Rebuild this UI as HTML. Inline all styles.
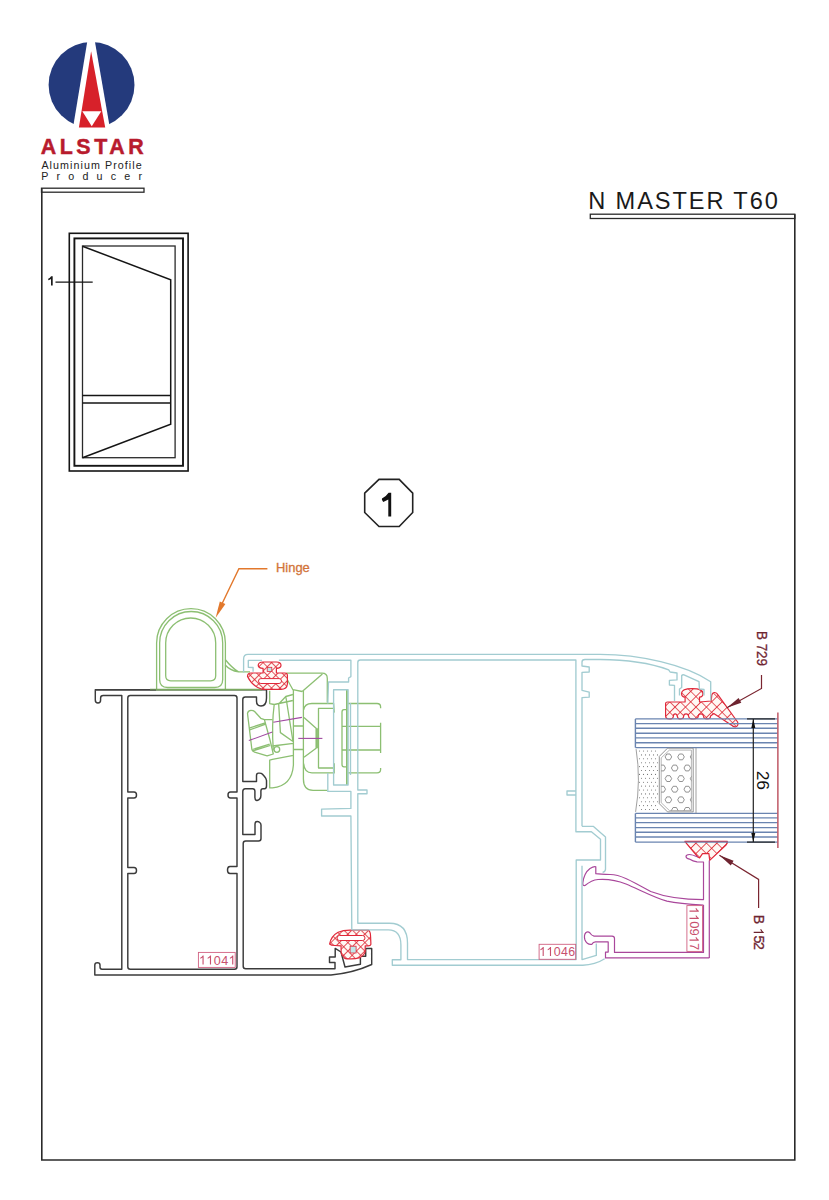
<!DOCTYPE html>
<html><head><meta charset="utf-8"><title>N MASTER T60</title>
<style>
html,body{margin:0;padding:0;background:#fff;width:829px;height:1200px;overflow:hidden}
svg{position:absolute;left:0;top:0;display:block}
text{font-family:"Liberation Sans",sans-serif}
</style></head><body>
<svg width="829" height="1200" viewBox="0 0 829 1200">
<!-- LOGO -->
<g id="logo">
<circle cx="91.55" cy="84.95" r="42.95" fill="#243a7c"/>
<polygon points="91,19 71.8,135 111.1,135" fill="#fff"/>
<polygon points="91.1,51.2 78.9,127.6 105.2,127.6" fill="#d7212a"/>
<polygon points="82.3,111.2 101.3,111.2 91.75,126.2" fill="#fff"/>
<rect x="60" y="128.3" width="70" height="8" fill="#fff"/>
<text x="40.8" y="154.3" font-size="21.4" font-weight="bold" fill="#b81b2d" stroke="#b81b2d" stroke-width="0.45" textLength="102.8" lengthAdjust="spacing">ALSTAR</text>
<text x="41.4" y="169.1" font-size="10.7" fill="#222" textLength="100.3" lengthAdjust="spacing">Aluminium Profile</text>
<text x="41.2" y="180" font-size="10.7" fill="#222" textLength="100.8" lengthAdjust="spacing">Producer</text>
</g>
<!-- BORDER -->
<g fill="none" stroke="#2a2a2a" stroke-width="1.6">
<rect x="41.5" y="188.2" width="102.5" height="4" stroke-width="1.3"/>
<polyline points="41.8,188.2 41.8,1160 794.8,1160 794.8,214.2"/>
<rect x="590.3" y="214.2" width="204.5" height="4.3" stroke-width="1.3"/>
</g>
<text x="588.2" y="208.9" font-size="23.6" fill="#1a1a1a" textLength="189.6" lengthAdjust="spacing">N MASTER T60</text>

<!-- WINDOW ELEVATION -->
<g fill="none" stroke="#151515" stroke-width="1.6">
<rect x="69.3" y="233.3" width="118.8" height="237.7"/>
<rect x="74.4" y="238.4" width="108.6" height="227.4" stroke-width="1.9"/>
<rect x="82.5" y="246" width="92.6" height="211.7" stroke="#2a2a2a" stroke-width="1.3"/>
<polyline points="82.5,246.2 170.7,279.8 170.7,424.3 82.5,457.7" stroke-width="1.5"/>
<line x1="82.5" y1="395.6" x2="170.7" y2="395.6" stroke-width="1.5"/>
<line x1="82.5" y1="403" x2="170.7" y2="403" stroke-width="1.5"/>
<line x1="55.5" y1="282.2" x2="92.7" y2="282.2" stroke-width="1.3"/>
</g>
<path d="M51.1,276.2 L52.7,276.2 L52.7,285.4 L51,285.4 L51,278.9 Q49.8,279.8 48.3,280.3 L48.2,278.7 Q50.2,277.7 51.1,276.2 Z" fill="#1a1a1a"/>

<!-- OCTAGON -->
<polygon points="379,479.4 399.2,479.4 412.7,493.2 412.7,512.5 399.2,526.5 379,526.5 364.7,512.5 364.7,493.2" fill="none" stroke="#222" stroke-width="1.6"/>
<path d="M388.6,492.8 L391.2,492.8 L391.2,516.5 L388.3,516.5 L388.3,499.6 Q386,501 383.2,502 L381.9,499.8 L382,498.6 Q386.2,496.4 388.6,492.8 Z" fill="#111"/>

<!-- SECTION DRAWING -->
<g id="section">
<!-- BLACK FRAME 11041 -->
<g fill="none" stroke="#3b3b3b" stroke-width="1.45" stroke-linejoin="round">
<path d="M266.5,698 L266.5,689.7 L95.3,689.7 L95.3,700 Q95.3,703 98,703 Q100.6,703 100.6,700 L100.6,698 Q100.6,695.4 103.2,695.4 L121.8,695.4 L121.8,969.2 L102,969.2 Q100,969.2 100,967 L100,965 Q100,962.8 97.4,962.8 Q94.8,962.8 94.8,965 L94.8,975 L331,975 Q353,973 371.7,964.5 L371.7,948.4 L365.7,948.4 L365.7,956.3 L360.4,956.3 L360.4,964.3 L345,967 L341,952 L335.2,948.4 L335.2,957 L329.5,957 L329.5,962.4 L335,962.4 L335,968.8 L245.7,968.8 Q243.2,968.8 243.2,966.3 L243.2,843.5 Q243.2,841 245.7,841 L258.5,841 Q261,841 261,838.5 L261,825 Q261,823.5 259.5,822.3 Q258.5,821.5 257.2,821.5 Q255,821.5 255,824 L255,834.5 L242.8,834.5 L242.8,791.5 Q242.8,788.7 245.3,788.7 L252.6,788.7 Q254.9,788.7 254.9,791 L254.9,797.5 Q255,800.5 257,800.5 Q260.9,799.5 260.9,795.5 L260.9,791 Q260.9,788.8 263,788.8 L264.5,788.8 Q266.5,788.6 266.5,786 L266.5,780.5 Q266.3,778.5 264.5,776.5 L262.5,774.2 Q261.5,773.1 259.5,773.1 L258.5,773.1 Q256.5,773.2 256.5,775.5 L256.5,781.5 L242.8,781.5 L242.8,699.5 Q242.8,697 245.3,697 L256.5,697 L256.5,701 Q256.5,706 261,706 Q266.5,706 266.5,698"/>
<path d="M127.8,698 Q127.8,695.5 130.3,695.5 L234.5,695.5 Q237,695.5 237,698 L237,792 L230.5,792 Q228,792 228,795 Q228,798 230.5,798 L237,798 L237,866.5 L230,866.5 Q227.5,866.5 227.5,870 Q227.5,873.5 230,873.5 L237,873.5 L237,966.7 Q237,969.2 234.5,969.2 L130.3,969.2 Q127.8,969.2 127.8,966.7 L127.8,873.5 L134,873.5 Q136.5,873.5 136.5,870.5 Q136.5,867.5 134,867.5 L127.8,867.5 L127.8,798 L134,798 Q136.5,798 136.5,795 Q136.5,792 134,792 L127.8,792 Z"/>
</g>

<!-- GREEN HINGE + SASH HARDWARE -->
<g fill="none" stroke="#8cbf72" stroke-width="1.3" stroke-linejoin="round">
<path d="M156.6,689.3 L156.6,643 A34.4,34.4 0 0 1 225.4,643 L225.4,689.3"/>
<path d="M159.65,679.5 L159.65,643 A31.5,31.5 0 0 1 222.7,643 L222.7,679.5 Q222.7,687.5 214.7,687.5 L167.65,687.5 Q159.65,687.5 159.65,679.5 Z"/>
<path d="M165.7,675.8 L165.7,643 A25,25 0 0 1 215.7,643 L215.7,675.8 Q215.7,680.8 210.7,680.8 L170.7,680.8 Q165.7,680.8 165.7,675.8 Z"/>
<path d="M225.2,659.5 Q232,668 238.5,671.9 L250,671.9 M225.2,665 Q230,670.5 238.5,671.9"/>
<path d="M150,689.6 L262,689.6" stroke="#7aa860" stroke-width="1.9"/>
<path d="M286.3,673.2 L322,673.2 Q327.3,673.2 327.3,678.5 L327.3,702.4"/>
<path d="M302.2,691.5 L322.4,674"/>
<path d="M287.5,680 L292.9,689.7 L302.2,691.5"/>
<path d="M269.7,690.7 L269.7,703.6 L274.2,704.5 L292.9,700.5 M278.7,704 L285.8,696.5 L293,694.5 M274.2,704.5 Q271.5,725 273.3,750.4 M285.8,696.5 L293,741.5 M278.7,704 L280.4,732.6 L293,741.5"/>
<path d="M293.4,689.7 L293.4,765 Q292,786 272.4,787.9 L269.7,787.9 L269.7,760.2 L272.4,759.3 L293.4,755.3 M272.4,746 L293.4,743.3"/>
<path d="M247.5,713.5 Q248,710.3 251,710.3 Q253.5,710.3 254.6,711.5 L260.8,718.3 L264.4,719.7 L272.4,719.7 M264.4,719.7 L270,740 L273.3,754 L267.1,755.8 L254.6,752.2 Q251.9,751 251.9,749.5 L247.5,713.5"/>
<path d="M249.2,728.1 L265.3,722.8 M249.7,729.9 L265.7,724.1 M252.4,749.5 L269.7,744.2 M252.8,750.9 L270.2,745.5"/>
<circle cx="276.9" cy="749.5" r="2.8"/>
<path d="M293.4,726 L303.4,726 M293.4,749.5 L303.4,749.5"/>
<path d="M303.4,690.9 L303.4,779 Q303.4,790.4 313.1,790.4 L327,790.4"/>
<path d="M303.6,710 Q304.5,703.5 311.9,703.5 L333.6,703.5 L334.2,712.6 M303.6,763.5 Q304.5,772.9 311.9,772.9 L334.2,772.9 L334.2,763.2"/>
<path d="M333.6,708.3 L318.5,708.3 L318.5,768 L333.6,768"/>
<path d="M304,717.4 L316.1,728.3 L316.1,748.2 L304,757.2 M317.3,728.3 L317.3,748.2"/>
<path d="M346.9,689.7 L346.9,785" stroke-width="1.8"/>
<path d="M346.9,709.6 L344,709.6 Q342,709.6 342,712 L342,764.5 Q342,766.9 344,766.9 L346.9,766.9"/>
<path d="M348.1,703.5 L377,703.5 Q380.6,703.5 380.6,707 L380.6,708.3 M348.1,772.9 L377,772.9 Q380.6,772.9 380.6,769.5 L380.6,768 M380.6,722.8 L380.6,753 M342,726.4 L380.6,726.4 M342,750 L380.6,750"/>
</g>
<g stroke="#a04aa0" stroke-width="1.1"><line x1="248.8" y1="740.6" x2="272.4" y2="732.1"/><line x1="273.3" y1="722.3" x2="301.9" y2="717.4"/><line x1="298.3" y1="738.4" x2="322.4" y2="738.4"/></g>

<!-- RED GASKETS -->
<g fill="url(#hatch)" stroke="#e0283a" stroke-width="1.2" stroke-linejoin="round">
<path d="M247.5,676.5 Q247.5,673 251,673 L263.1,673 L263.1,668.4 Q258.2,668.3 258.2,665.3 Q258.4,662 263,662 L276.5,662 Q281,662 281,665.3 Q281,668.3 276.4,668.4 L276.4,673 L285,673 Q287.4,673 287.4,675.5 L287.4,684 Q287,689.3 281,689.3 L262,689.3 Q252,686 247.5,676.5 Z"/>
<path d="M329.6,944 Q331,936 338.1,932.2 Q343,930.1 350.1,930.1 L368.2,930.1 Q370.6,931 370.6,937 L370.9,944.3 Q370.5,945.8 368.2,945.8 L365.2,945.8 L365.2,951.5 Q364.6,955 359.8,957.6 Q355,959 350.1,958.8 Q345,959 344.1,957.6 Q341.1,955 341.1,952.1 L341.1,945.8 L335,945.5 Q331,945.5 329.6,944 Z"/>
<path fill="url(#hatch2)" d="M665.6,703.5 Q665.6,702 667.5,702 L685.1,702 L685.1,697.2 Q681.5,697 681.5,693.2 Q681.8,688.6 692.2,688.6 Q703,688.6 703,693.2 Q703,697 699.5,697.2 L699.5,702 L711.2,701 L711.8,695 Q712.5,692.4 714.6,692.5 Q716.8,692.7 717.8,694.6 L737.6,722 Q738.8,725.8 735.8,726.8 Q733.3,727.2 731.6,725.2 L713.8,713.5 L710.6,716 Q710.6,719 707,719 Q703.6,719 703.6,716.3 Q703,713.8 701,713.8 Q698.2,713.8 698.2,716.5 Q698,719 693.4,719 Q688.7,719 688.7,716.5 Q688.2,713.8 686.1,713.8 Q683.7,713.8 683.6,716.5 Q683.4,719 680.5,719 Q677.5,719 677.4,716.5 Q676.8,713.8 675.2,713.8 Q673.4,713.8 673.3,716.5 Q673.2,719 669.4,719 Q665.6,719 665.6,716 Z"/>
<path fill="url(#hatch2)" d="M684.8,841.4 L727.4,841.4 Q728,843 726,845 L709.7,860.4 L708.9,853.6 L702.5,853.6 L699.6,857.9 L697.9,857 Z"/>
</g>
<g fill="#fff" stroke="#e0283a" stroke-width="1">
<rect x="258.5" y="678.6" width="23" height="4.9" rx="2.4"/>
<rect x="337" y="935.5" width="28" height="5" rx="2.5"/>
</g>
<g fill="#bfe8ea" stroke="#e0283a" stroke-width="0.8"><rect x="267.2" y="667.3" width="4.6" height="4.3"/><rect x="350.1" y="946.2" width="6" height="6.8"/></g>

<!-- MAGENTA GLAZING BEAD 110917 -->
<g fill="none" stroke="#a9479b" stroke-width="1.2" stroke-linejoin="round">
<path d="M709.3,957.9 L709.3,860.4 M697.9,857 Q692,854.5 689.4,854.5 Q686,854.5 686,856.6 Q686,858.5 689.4,859.1 Q693,861.5 697,861.8 L703.5,862 L703.5,899.6 C680,899.6 665,897 650.7,891.5 C630,880 620,874.5 610.3,874.5 Q600,874.5 595.8,873.7 L595.8,866.8 Q594,866 590,868.5 Q584,873 582.8,883 Q582.5,886 585,885.5 C588,883 592,880 598,879.5 C605,879 615,879.5 626,884 C640,890 655,898 666.9,901.2 C675,903 690,904.4 703.5,905"/>
<path d="M709.3,957.9 L605.5,957.9 L605.5,952.1 L608.2,952.1 L608.2,941.9 L595.5,941.9 Q593,942 591.9,944.3 Q587,945 585,940 Q583.5,935 586,932.5 Q588,931.2 590,933 Q591.5,935.5 594,936.2 L612,936.2 Q614.5,936.2 614.5,938.5 L614.5,952.4 L703.5,952.4 L703.5,905"/>
</g>
<rect x="686.9" y="905.6" width="15.6" height="45.8" fill="none" stroke="#d06080" stroke-width="0.9"/>
<g transform="translate(689.5,0) rotate(90)"><text x="921.28 928.52 943.00" y="0" font-size="13" fill="#c8506e">097</text>
<path transform="translate(906.80,0) scale(13)" d="M0.375,0 L0.285,0 L0.285,-0.56 Q0.2,-0.49 0.105,-0.455 L0.105,-0.54 Q0.24,-0.6 0.31,-0.716 L0.375,-0.716 Z" fill="#c8506e"/>
<path transform="translate(914.04,0) scale(13)" d="M0.375,0 L0.285,0 L0.285,-0.56 Q0.2,-0.49 0.105,-0.455 L0.105,-0.54 Q0.24,-0.6 0.31,-0.716 L0.375,-0.716 Z" fill="#c8506e"/>
<path transform="translate(935.76,0) scale(13)" d="M0.375,0 L0.285,0 L0.285,-0.56 Q0.2,-0.49 0.105,-0.455 L0.105,-0.54 Q0.24,-0.6 0.31,-0.716 L0.375,-0.716 Z" fill="#c8506e"/></g>

<!-- LABELS B729 / B152 -->
<text transform="translate(757.1,631) rotate(90)" font-size="14.4" fill="#6e2430" stroke="#6e2430" stroke-width="0.3" textLength="35" lengthAdjust="spacingAndGlyphs">B 729</text>
<g transform="translate(753.7,0) rotate(90)"><text x="914.70 935.50 942.00" y="0" font-size="14.1" fill="#6e2430" stroke="#6e2430" stroke-width="0.3">B52</text>
<path transform="translate(927.80,0) scale(14.1)" d="M0.375,0 L0.285,0 L0.285,-0.56 Q0.2,-0.49 0.105,-0.455 L0.105,-0.54 Q0.24,-0.6 0.31,-0.716 L0.375,-0.716 Z" fill="#6e2430"/></g>
<g fill="none" stroke="#7a2530" stroke-width="1.2">
<polyline points="761.5,675 761.5,688.4 726.9,707.8"/>
<polyline points="719.4,855.3 758.6,879.4 758.6,908"/>
</g>
<polygon points="726.9,707.8 738.6,698 741.3,702.8" fill="#6e2430"/>
<polygon points="719.4,855.3 733.6,860.8 730.8,865.4" fill="#6e2430"/>

<!-- HINGE LABEL -->
<g stroke="#e2782c" stroke-width="1.4" fill="none"><polyline points="267.4,568.8 238.9,568.8 219,610"/></g>
<polygon points="215.7,617.7 219.8,601.5 225.4,604" fill="#e2782c"/>
<text x="276" y="571.9" font-size="12.6" fill="#d2743a" stroke="#d2743a" stroke-width="0.3" textLength="33.8" lengthAdjust="spacingAndGlyphs">Hinge</text>
<line x1="95.3" y1="690.1" x2="156" y2="690.1" stroke="#4a4a4a" stroke-width="1"/>
<!-- label 11041 -->
<rect x="198.4" y="952.4" width="36.8" height="15" fill="none" stroke="#d06080" stroke-width="0.9"/>
<text x="213.74 221.16" y="964.6" font-size="12.6" fill="#c8506e">04</text>
<path transform="translate(198.90,964.6) scale(12.6)" d="M0.375,0 L0.285,0 L0.285,-0.56 Q0.2,-0.49 0.105,-0.455 L0.105,-0.54 Q0.24,-0.6 0.31,-0.716 L0.375,-0.716 Z" fill="#c8506e"/>
<path transform="translate(206.32,964.6) scale(12.6)" d="M0.375,0 L0.285,0 L0.285,-0.56 Q0.2,-0.49 0.105,-0.455 L0.105,-0.54 Q0.24,-0.6 0.31,-0.716 L0.375,-0.716 Z" fill="#c8506e"/>
<path transform="translate(228.58,964.6) scale(12.6)" d="M0.375,0 L0.285,0 L0.285,-0.56 Q0.2,-0.49 0.105,-0.455 L0.105,-0.54 Q0.24,-0.6 0.31,-0.716 L0.375,-0.716 Z" fill="#c8506e"/>

<!-- CYAN 11046 -->
<g fill="none" stroke="#a2ccd1" stroke-width="1.35" stroke-linejoin="round">
<path d="M243.6,672.4 L243.6,659 Q243.6,654.4 248,654.4 L600,654.4 C640,654.5 685,664.5 710.7,681.7 L710.7,700.5"/>
<path d="M253.1,671.8 L253.1,667.5 L248.3,667.3 L248.3,660.3 L262,660.3 M278.9,660.2 L350.9,660.2 L350.9,676.6 L348.6,678 L348.6,682 L328.5,682 L327.8,703.6"/>
<path d="M327.8,773 L327.8,791.4 L350.9,791.4 L350.9,808.4 L321.6,809.2 L321.6,816 L350.9,816 L351.8,929.8 L388.3,929.8 Q400.9,929.8 400.9,945 L400.9,959.7 L392.3,959.7 L392.3,965.2 L582.8,965.2 Q595,965 604.7,958.8"/>
<path d="M357.8,662.5 Q357.8,660 360.3,660 L575.9,660 L575.9,831.7 L591.4,831.7 L600.5,839.3 L600.5,860 L576.2,860 L576.2,959.6 L407.5,959.6 L407.5,943 Q407.5,923.2 389.6,923.2 L357.8,923.2 L357.8,793.7 L367,793.7 L367,790 L357.8,790 Z"/>
<path d="M582,826.3 L582,697.7 L589.2,697.2 L589.2,692.1 L582,690.3 L582,672.4 L589.2,672 L589.2,667 L582,666 L582,662 Q582,659.5 585,659.5 L600,659.5 C625,659.6 650,663 668.7,669.8 L670.1,672 L677,673 L677,679.9 L669.4,680.3 L669.4,685 L674.5,685.3 L674.5,701 M679.5,695.5 L679.5,689 L681.7,687.5 L681.7,675.5 Q682.5,674.5 684,674.8 L699,681.7 L699.4,689 L704,689.3 L704,695.5 M582,826.3 L593.2,826.3 L605.5,837.1 L605.5,869.3 Q605,872.2 602.6,872.2"/>
<path d="M582,865.7 L582,959.6 L596.3,955.4 L596.3,943.6"/>
<path d="M576,791 L567,791 L567,795 L576,795"/>
<path d="M333.6,689.7 L348.1,689.7 L348.1,785 L333.6,785 Z M350.5,703 L350.5,775"/>
</g>
<rect x="539.1" y="944.3" width="36.6" height="15" fill="none" stroke="#d06080" stroke-width="0.9"/>
<text x="553.68 560.97 568.26" y="956" font-size="12.4" fill="#c8506e">046</text>
<path transform="translate(539.10,956) scale(12.4)" d="M0.375,0 L0.285,0 L0.285,-0.56 Q0.2,-0.49 0.105,-0.455 L0.105,-0.54 Q0.24,-0.6 0.31,-0.716 L0.375,-0.716 Z" fill="#c8506e"/>
<path transform="translate(546.39,956) scale(12.4)" d="M0.375,0 L0.285,0 L0.285,-0.56 Q0.2,-0.49 0.105,-0.455 L0.105,-0.54 Q0.24,-0.6 0.31,-0.716 L0.375,-0.716 Z" fill="#c8506e"/>

<!-- GLASS -->
<defs>
<clipPath id="spc"><polygon points="661.2,757.9 669.4,750.1 691.4,750.1 691.4,810.5 669.4,810.5 661.2,802.7"/></clipPath>
<pattern id="hatch" patternUnits="userSpaceOnUse" width="6" height="6" patternTransform="rotate(45)"><rect width="6" height="6" fill="#fff8f4"/><path d="M0,0 L0,6 M0,0 L6,0" stroke="#dc2430" stroke-width="1.6" fill="none"/></pattern>
<pattern id="hatch2" patternUnits="userSpaceOnUse" width="7.4" height="7.4" patternTransform="rotate(45)"><rect width="7.4" height="7.4" fill="#fff8f4"/><path d="M0,0 L0,7.4 M0,0 L7.4,0" stroke="#dc2430" stroke-width="1.6" fill="none"/></pattern>
</defs>
<g stroke="#6a84b0" stroke-width="1.4"><line x1="635.4" y1="718.9" x2="777.3" y2="718.9"/><line x1="635.4" y1="723.6" x2="777.3" y2="723.6"/><line x1="635.4" y1="728.3" x2="777.3" y2="728.3"/><line x1="635.4" y1="733.2" x2="777.3" y2="733.2"/><line x1="635.4" y1="737.9" x2="777.3" y2="737.9"/><line x1="635.4" y1="742.7" x2="777.3" y2="742.7"/><line x1="635.4" y1="747.6" x2="777.3" y2="747.6"/><line x1="635.4" y1="813.4" x2="777.3" y2="813.4"/><line x1="635.4" y1="817.9" x2="777.3" y2="817.9"/><line x1="635.4" y1="822.6" x2="777.3" y2="822.6"/><line x1="635.4" y1="827.6" x2="777.3" y2="827.6"/><line x1="635.4" y1="832.3" x2="777.3" y2="832.3"/><line x1="635.4" y1="837.0" x2="777.3" y2="837.0"/><line x1="635.4" y1="842.1" x2="777.3" y2="842.1"/><line x1="635.4" y1="718.9" x2="635.4" y2="747.6"/><line x1="635.4" y1="813.4" x2="635.4" y2="842.1"/></g>
<path d="M636.1,749.2 Q641,780 635.6,811.9" fill="none" stroke="#777" stroke-width="0.7"/>
<g fill="#777"><circle cx="639.5" cy="751.0" r="0.55"/><circle cx="643.5" cy="751.0" r="0.55"/><circle cx="647.5" cy="751.0" r="0.55"/><circle cx="651.5" cy="751.0" r="0.55"/><circle cx="655.5" cy="751.0" r="0.55"/><circle cx="641.5" cy="754.9" r="0.55"/><circle cx="645.5" cy="754.9" r="0.55"/><circle cx="649.5" cy="754.9" r="0.55"/><circle cx="653.5" cy="754.9" r="0.55"/><circle cx="657.5" cy="754.9" r="0.55"/><circle cx="639.5" cy="758.8" r="0.55"/><circle cx="643.5" cy="758.8" r="0.55"/><circle cx="647.5" cy="758.8" r="0.55"/><circle cx="651.5" cy="758.8" r="0.55"/><circle cx="655.5" cy="758.8" r="0.55"/><circle cx="641.5" cy="762.7" r="0.55"/><circle cx="645.5" cy="762.7" r="0.55"/><circle cx="649.5" cy="762.7" r="0.55"/><circle cx="653.5" cy="762.7" r="0.55"/><circle cx="657.5" cy="762.7" r="0.55"/><circle cx="639.5" cy="766.6" r="0.55"/><circle cx="643.5" cy="766.6" r="0.55"/><circle cx="647.5" cy="766.6" r="0.55"/><circle cx="651.5" cy="766.6" r="0.55"/><circle cx="655.5" cy="766.6" r="0.55"/><circle cx="641.5" cy="770.5" r="0.55"/><circle cx="645.5" cy="770.5" r="0.55"/><circle cx="649.5" cy="770.5" r="0.55"/><circle cx="653.5" cy="770.5" r="0.55"/><circle cx="657.5" cy="770.5" r="0.55"/><circle cx="639.5" cy="774.4" r="0.55"/><circle cx="643.5" cy="774.4" r="0.55"/><circle cx="647.5" cy="774.4" r="0.55"/><circle cx="651.5" cy="774.4" r="0.55"/><circle cx="655.5" cy="774.4" r="0.55"/><circle cx="641.5" cy="778.3" r="0.55"/><circle cx="645.5" cy="778.3" r="0.55"/><circle cx="649.5" cy="778.3" r="0.55"/><circle cx="653.5" cy="778.3" r="0.55"/><circle cx="657.5" cy="778.3" r="0.55"/><circle cx="639.5" cy="782.2" r="0.55"/><circle cx="643.5" cy="782.2" r="0.55"/><circle cx="647.5" cy="782.2" r="0.55"/><circle cx="651.5" cy="782.2" r="0.55"/><circle cx="655.5" cy="782.2" r="0.55"/><circle cx="641.5" cy="786.1" r="0.55"/><circle cx="645.5" cy="786.1" r="0.55"/><circle cx="649.5" cy="786.1" r="0.55"/><circle cx="653.5" cy="786.1" r="0.55"/><circle cx="657.5" cy="786.1" r="0.55"/><circle cx="639.5" cy="790.0" r="0.55"/><circle cx="643.5" cy="790.0" r="0.55"/><circle cx="647.5" cy="790.0" r="0.55"/><circle cx="651.5" cy="790.0" r="0.55"/><circle cx="655.5" cy="790.0" r="0.55"/><circle cx="641.5" cy="793.9" r="0.55"/><circle cx="645.5" cy="793.9" r="0.55"/><circle cx="649.5" cy="793.9" r="0.55"/><circle cx="653.5" cy="793.9" r="0.55"/><circle cx="657.5" cy="793.9" r="0.55"/><circle cx="639.5" cy="797.8" r="0.55"/><circle cx="643.5" cy="797.8" r="0.55"/><circle cx="647.5" cy="797.8" r="0.55"/><circle cx="651.5" cy="797.8" r="0.55"/><circle cx="655.5" cy="797.8" r="0.55"/><circle cx="641.5" cy="801.7" r="0.55"/><circle cx="645.5" cy="801.7" r="0.55"/><circle cx="649.5" cy="801.7" r="0.55"/><circle cx="653.5" cy="801.7" r="0.55"/><circle cx="657.5" cy="801.7" r="0.55"/><circle cx="639.5" cy="805.6" r="0.55"/><circle cx="643.5" cy="805.6" r="0.55"/><circle cx="647.5" cy="805.6" r="0.55"/><circle cx="651.5" cy="805.6" r="0.55"/><circle cx="655.5" cy="805.6" r="0.55"/><circle cx="641.5" cy="809.5" r="0.55"/><circle cx="645.5" cy="809.5" r="0.55"/><circle cx="649.5" cy="809.5" r="0.55"/><circle cx="653.5" cy="809.5" r="0.55"/><circle cx="657.5" cy="809.5" r="0.55"/></g>
<polygon points="659.3,756.4 667.5,748.2 693.2,748.2 693.2,811.9 667.5,811.9 659.3,803.7" fill="#fff" stroke="#888" stroke-width="0.9"/>
<polygon points="661.2,757.9 669.4,750.1 691.4,750.1 691.4,810.5 669.4,810.5 661.2,802.7" fill="none" stroke="#999" stroke-width="0.7"/>
<g clip-path="url(#spc)" fill="none" stroke="#777" stroke-width="0.8"><polygon points="671.7,756.9 670.0,759.8 666.8,759.8 665.1,756.9 666.8,754.0 670.0,754.0"/><polygon points="684.3,756.9 682.6,759.8 679.4,759.8 677.7,756.9 679.4,754.0 682.6,754.0"/><polygon points="696.9,756.9 695.2,759.8 692.0,759.8 690.3,756.9 692.0,754.0 695.2,754.0"/><polygon points="665.5,768.0 663.9,770.9 660.6,770.9 658.9,768.0 660.6,765.1 663.9,765.1"/><polygon points="678.0,768.0 676.4,770.9 673.1,770.9 671.4,768.0 673.1,765.1 676.4,765.1"/><polygon points="690.6,768.0 688.9,770.9 685.6,770.9 684.0,768.0 685.6,765.1 688.9,765.1"/><polygon points="671.7,778.6 670.0,781.5 666.8,781.5 665.1,778.6 666.8,775.7 670.0,775.7"/><polygon points="684.3,778.6 682.6,781.5 679.4,781.5 677.7,778.6 679.4,775.7 682.6,775.7"/><polygon points="696.9,778.6 695.2,781.5 692.0,781.5 690.3,778.6 692.0,775.7 695.2,775.7"/><polygon points="665.5,789.2 663.9,792.1 660.6,792.1 658.9,789.2 660.6,786.3 663.9,786.3"/><polygon points="678.0,789.2 676.4,792.1 673.1,792.1 671.4,789.2 673.1,786.3 676.4,786.3"/><polygon points="690.6,789.2 688.9,792.1 685.6,792.1 684.0,789.2 685.6,786.3 688.9,786.3"/><polygon points="671.7,799.8 670.0,802.7 666.8,802.7 665.1,799.8 666.8,796.9 670.0,796.9"/><polygon points="684.3,799.8 682.6,802.7 679.4,802.7 677.7,799.8 679.4,796.9 682.6,796.9"/><polygon points="696.9,799.8 695.2,802.7 692.0,802.7 690.3,799.8 692.0,796.9 695.2,796.9"/><polygon points="665.5,810.4 663.9,813.3 660.6,813.3 658.9,810.4 660.6,807.5 663.9,807.5"/><polygon points="678.0,810.4 676.4,813.3 673.1,813.3 671.4,810.4 673.1,807.5 676.4,807.5"/><polygon points="690.6,810.4 688.9,813.3 685.6,813.3 684.0,810.4 685.6,807.5 688.9,807.5"/></g>
<line x1="696" y1="747.6" x2="696" y2="813.4" stroke="#888" stroke-width="0.8"/>
<!-- dimension 26 -->
<g stroke="#222" stroke-width="1.2"><line x1="747" y1="718.9" x2="775" y2="718.9"/><line x1="747" y1="842.1" x2="775" y2="842.1"/><line x1="753.3" y1="719" x2="753.3" y2="842"/></g>
<polygon points="753.3,719 751.3,728 755.3,728" fill="#111"/>
<polygon points="753.3,842 751.3,833 755.3,833" fill="#111"/>
<text transform="translate(756.6,770.7) rotate(90)" font-size="17.4" fill="#111">26</text>
<line x1="777.9" y1="712.5" x2="777.9" y2="848" stroke="#b03040" stroke-width="1.2"/>
</g>
</svg>
</body></html>
